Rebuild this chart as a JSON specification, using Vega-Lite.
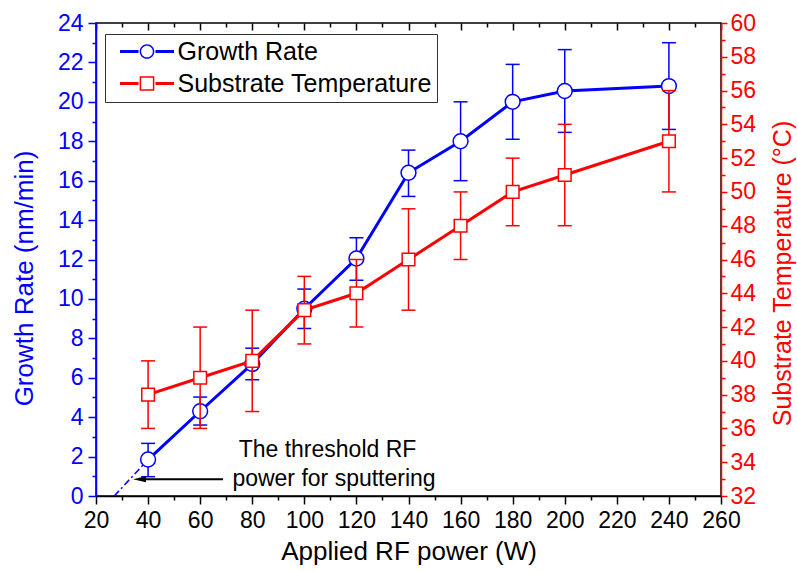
{
  "$schema": "https://vega.github.io/schema/vega-lite/v6.json",
  "width": 625,
  "height": 473,
  "autosize": {"type": "none"},
  "padding": {"left": 96, "top": 23, "right": 76, "bottom": 76},
  "background": "white",
  "config": {
    "font": "Liberation Sans",
    "view": {"stroke": "black", "strokeWidth": 1.5},
    "axis": {
      "grid": false,
      "labelFont": "Liberation Sans",
      "titleFont": "Liberation Sans",
      "titleFontWeight": "normal",
      "labelFontSize": 23,
      "titleFontSize": 26,
      "domainWidth": 1.5,
      "tickWidth": 1.5,
      "labelFlush": false,
      "labelOverlap": false
    },
    "legend": {
      "padding": 5,
      "strokeColor": "#333333",
      "strokeWidth": 1,
      "fillColor": "white",
      "labelFont": "Liberation Sans",
      "labelFontSize": 25,
      "labelColor": "black",
      "labelLimit": 500,
      "symbolSize": 225,
      "symbolOffset": 24.5,
      "labelOffset": 18,
      "rowPadding": 6,
      "symbolStrokeWidth": 0,
      "symbolOpacity": 1
    }
  },
  "datasets": {
    "growth": [
      {"power": 40, "rate": 1.85, "lo": 0.98, "hi": 2.67, "series": "Growth Rate"},
      {"power": 60, "rate": 4.3, "lo": 3.6, "hi": 5.02, "series": "Growth Rate"},
      {"power": 80, "rate": 6.7, "lo": 5.9, "hi": 7.5, "series": "Growth Rate"},
      {"power": 100, "rate": 9.5, "lo": 8.5, "hi": 10.5, "series": "Growth Rate"},
      {"power": 120, "rate": 12.05, "lo": 10.95, "hi": 13.1, "series": "Growth Rate"},
      {"power": 140, "rate": 16.4, "lo": 15.2, "hi": 17.55, "series": "Growth Rate"},
      {"power": 160, "rate": 18.0, "lo": 16.0, "hi": 20.0, "series": "Growth Rate"},
      {"power": 180, "rate": 20.0, "lo": 18.1, "hi": 21.9, "series": "Growth Rate"},
      {"power": 200, "rate": 20.55, "lo": 18.45, "hi": 22.65, "series": "Growth Rate"},
      {"power": 240, "rate": 20.8, "lo": 18.6, "hi": 23.0, "series": "Growth Rate"}
    ],
    "temp": [
      {"power": 40, "temp": 38, "lo": 36, "hi": 40, "series": "Substrate Temperature"},
      {"power": 60, "temp": 39, "lo": 36, "hi": 42, "series": "Substrate Temperature"},
      {"power": 80, "temp": 40, "lo": 37, "hi": 43, "series": "Substrate Temperature"},
      {"power": 100, "temp": 43, "lo": 41, "hi": 45, "series": "Substrate Temperature"},
      {"power": 120, "temp": 44, "lo": 42, "hi": 46, "series": "Substrate Temperature"},
      {"power": 140, "temp": 46, "lo": 43, "hi": 49, "series": "Substrate Temperature"},
      {"power": 160, "temp": 48, "lo": 46, "hi": 50, "series": "Substrate Temperature"},
      {"power": 180, "temp": 50, "lo": 48, "hi": 52, "series": "Substrate Temperature"},
      {"power": 200, "temp": 51, "lo": 48, "hi": 54, "series": "Substrate Temperature"},
      {"power": 240, "temp": 53, "lo": 50, "hi": 56, "series": "Substrate Temperature"}
    ],
    "extrap": [
      {"power": 27.0, "rate": 0.0},
      {"power": 40, "rate": 1.85}
    ],
    "arrow": [
      {"head": 36.7, "tail": 68.8, "level": 0.85}
    ],
    "note": [
      {"power": 108.9, "rate": 1.99, "label": "The threshold RF"},
      {"power": 111.4, "rate": 0.52, "label": "power for sputtering"}
    ]
  },
  "layer": [
    {
      "layer": [
        {
          "data": {"name": "growth"},
          "mark": {"type": "rule", "color": "#0000FF", "strokeWidth": 1.5},
          "encoding": {
            "x": {"field": "power", "type": "quantitative", "scale": {"domain": [20, 260], "nice": false, "zero": false},
              "axis": {"orient": "bottom", "values": [30, 50, 70, 90, 110, 130, 150, 170, 190, 210, 230, 250], "labels": false, "domain": false, "tickSize": 4, "tickColor": "black", "title": null}},
            "y": {"field": "lo", "type": "quantitative", "scale": {"domain": [0, 24], "nice": false, "zero": false},
              "axis": {"orient": "left", "values": [1, 3, 5, 7, 9, 11, 13, 15, 17, 19, 21, 23], "labels": false, "domain": false, "tickSize": 4, "tickColor": "#0000FF", "title": null}},
            "y2": {"field": "hi"}
          }
        },
        {
          "data": {"name": "growth"},
          "mark": {"type": "tick", "orient": "horizontal", "color": "#0000FF", "size": 14, "thickness": 1.5, "opacity": 1},
          "encoding": {
            "x": {"field": "power", "type": "quantitative", "scale": {"domain": [20, 260], "nice": false, "zero": false},
              "axis": {"orient": "top", "offset": -7, "values": [20, 40, 60, 80, 100, 120, 140, 160, 180, 200, 220, 240, 260], "labels": false, "domain": false, "tickSize": 7, "tickColor": "black", "title": null}},
            "y": {"field": "lo", "type": "quantitative", "scale": {"domain": [0, 24], "nice": false, "zero": false}, "axis": null}
          }
        },
        {
          "data": {"name": "growth"},
          "mark": {"type": "tick", "orient": "horizontal", "color": "#0000FF", "size": 14, "thickness": 1.5, "opacity": 1},
          "encoding": {
            "x": {"field": "power", "type": "quantitative", "scale": {"domain": [20, 260], "nice": false, "zero": false},
              "axis": {"orient": "top", "offset": -4, "values": [30, 50, 70, 90, 110, 130, 150, 170, 190, 210, 230, 250], "labels": false, "domain": false, "tickSize": 4, "tickColor": "black", "title": null}},
            "y": {"field": "hi", "type": "quantitative", "scale": {"domain": [0, 24], "nice": false, "zero": false}, "axis": null}
          }
        },
        {
          "data": {"name": "extrap"},
          "mark": {"type": "line", "color": "#0000FF", "strokeWidth": 1.5, "strokeDash": [7, 3, 2, 3]},
          "encoding": {
            "x": {"field": "power", "type": "quantitative", "scale": {"domain": [20, 260], "nice": false, "zero": false}, "axis": null},
            "y": {"field": "rate", "type": "quantitative", "scale": {"domain": [0, 24], "nice": false, "zero": false}, "axis": null}
          }
        },
        {
          "data": {"name": "growth"},
          "mark": {"type": "line", "color": "#0000FF", "strokeWidth": 3},
          "encoding": {
            "x": {"field": "power", "type": "quantitative", "scale": {"domain": [20, 260], "nice": false, "zero": false},
              "axis": {"orient": "bottom", "values": [20, 40, 60, 80, 100, 120, 140, 160, 180, 200, 220, 240, 260], "title": "Applied RF power (W)", "tickSize": 8, "tickColor": "black", "domainColor": "black", "labelColor": "black", "titleColor": "black", "labelPadding": 5, "titlePadding": 6}},
            "y": {"field": "rate", "type": "quantitative", "scale": {"domain": [0, 24], "nice": false, "zero": false},
              "axis": {"orient": "left", "values": [0, 2, 4, 6, 8, 10, 12, 14, 16, 18, 20, 22, 24], "title": "Growth Rate (nm/min)", "tickSize": 8, "tickColor": "#0000FF", "domainColor": "#0000FF", "labelColor": "#0000FF", "titleColor": "#0000FF", "labelPadding": 5, "titlePadding": 20, "titleY": 255}}
          }
        },
        {
          "data": {"name": "growth"},
          "mark": {"type": "point", "shape": "circle", "size": 220, "filled": false, "fill": "white", "stroke": "#0000FF", "strokeWidth": 1.5, "opacity": 1},
          "encoding": {
            "x": {"field": "power", "type": "quantitative", "scale": {"domain": [20, 260], "nice": false, "zero": false}, "axis": null},
            "y": {"field": "rate", "type": "quantitative", "scale": {"domain": [0, 24], "nice": false, "zero": false}, "axis": null}
          }
        },
        {
          "data": {"name": "arrow"},
          "mark": {"type": "rule", "color": "black", "strokeWidth": 2},
          "encoding": {
            "x": {"field": "head", "type": "quantitative", "scale": {"domain": [20, 260], "nice": false, "zero": false}, "axis": null},
            "x2": {"field": "tail"},
            "y": {"field": "level", "type": "quantitative", "scale": {"domain": [0, 24], "nice": false, "zero": false}, "axis": null}
          }
        },
        {
          "data": {"name": "arrow"},
          "mark": {"type": "point", "shape": "M-1,0L1,-0.45L1,0.45Z", "size": 169, "filled": true, "color": "black", "opacity": 1},
          "encoding": {
            "x": {"field": "head", "type": "quantitative", "scale": {"domain": [20, 260], "nice": false, "zero": false}, "axis": null},
            "y": {"field": "level", "type": "quantitative", "scale": {"domain": [0, 24], "nice": false, "zero": false}, "axis": null}
          }
        },
        {
          "data": {"name": "note"},
          "mark": {"type": "text", "font": "Liberation Sans", "fontSize": 23, "color": "black", "align": "center", "baseline": "alphabetic"},
          "encoding": {
            "x": {"field": "power", "type": "quantitative", "scale": {"domain": [20, 260], "nice": false, "zero": false}, "axis": null},
            "y": {"field": "rate", "type": "quantitative", "scale": {"domain": [0, 24], "nice": false, "zero": false}, "axis": null},
            "text": {"field": "label"}
          }
        },
        {
          "data": {"name": "growth"},
          "transform": [{"filter": "false"}],
          "mark": {"type": "point", "filled": true, "opacity": 1},
          "encoding": {
            "x": {"field": "power", "type": "quantitative", "scale": {"domain": [20, 260], "nice": false, "zero": false}, "axis": null},
            "y": {"field": "rate", "type": "quantitative", "scale": {"domain": [0, 24], "nice": false, "zero": false}, "axis": null},
            "color": {"field": "series", "type": "nominal",
              "scale": {"domain": ["Growth Rate", "Substrate Temperature"], "range": ["#0000FF", "#FF0000"]},
              "legend": {"title": null, "orient": "none", "legendX": 9, "legendY": 11}},
            "shape": {"field": "series", "type": "nominal",
              "scale": {"domain": ["Growth Rate", "Substrate Temperature"], "range": [
                "M-3.6,-0.2H-1.13V0.2H-3.6Z M1.13,-0.2H3.6V0.2H1.13Z M0.98,0A0.98,0.98 0 1,0 -0.98,0A0.98,0.98 0 1,0 0.98,0Z M0.78,0A0.78,0.78 0 1,1 -0.78,0A0.78,0.78 0 1,1 0.78,0Z",
                "M-3.6,-0.2H-1.13V0.2H-3.6Z M1.13,-0.2H3.6V0.2H1.13Z M-0.98,-0.98H0.98V0.98H-0.98Z M-0.78,-0.78V0.78H0.78V-0.78Z"
              ]},
              "legend": {"title": null, "orient": "none", "legendX": 9, "legendY": 11}}
          }
        }
      ],
      "resolve": {"axis": {"x": "independent", "y": "independent"}}
    },
    {
      "layer": [
        {
          "data": {"name": "temp"},
          "mark": {"type": "rule", "color": "#FF0000", "strokeWidth": 1.5},
          "encoding": {
            "x": {"field": "power", "type": "quantitative", "scale": {"domain": [20, 260], "nice": false, "zero": false}, "axis": null},
            "y": {"field": "lo", "type": "quantitative", "scale": {"domain": [32, 60], "nice": false, "zero": false},
              "axis": {"orient": "right", "values": [33, 35, 37, 39, 41, 43, 45, 47, 49, 51, 53, 55, 57, 59], "labels": false, "domain": false, "tickSize": 4, "tickColor": "#FF0000", "title": null}},
            "y2": {"field": "hi"}
          }
        },
        {
          "data": {"name": "temp"},
          "mark": {"type": "tick", "orient": "horizontal", "color": "#FF0000", "size": 14, "thickness": 1.5, "opacity": 1},
          "encoding": {
            "x": {"field": "power", "type": "quantitative", "scale": {"domain": [20, 260], "nice": false, "zero": false}, "axis": null},
            "y": {"field": "lo", "type": "quantitative", "scale": {"domain": [32, 60], "nice": false, "zero": false}, "axis": null}
          }
        },
        {
          "data": {"name": "temp"},
          "mark": {"type": "tick", "orient": "horizontal", "color": "#FF0000", "size": 14, "thickness": 1.5, "opacity": 1},
          "encoding": {
            "x": {"field": "power", "type": "quantitative", "scale": {"domain": [20, 260], "nice": false, "zero": false}, "axis": null},
            "y": {"field": "hi", "type": "quantitative", "scale": {"domain": [32, 60], "nice": false, "zero": false}, "axis": null}
          }
        },
        {
          "data": {"name": "temp"},
          "mark": {"type": "line", "color": "#FF0000", "strokeWidth": 3},
          "encoding": {
            "x": {"field": "power", "type": "quantitative", "scale": {"domain": [20, 260], "nice": false, "zero": false}, "axis": null},
            "y": {"field": "temp", "type": "quantitative", "scale": {"domain": [32, 60], "nice": false, "zero": false},
              "axis": {"orient": "right", "values": [32, 34, 36, 38, 40, 42, 44, 46, 48, 50, 52, 54, 56, 58, 60], "title": "Substrate Temperature (°C)", "titleAngle": 270, "titleBaseline": "middle", "titleAlign": "center", "titleFontSize": 25, "titleX": 61, "titleY": 250, "tickSize": 6, "tickColor": "#FF0000", "domainColor": "#FF0000", "labelColor": "#FF0000", "titleColor": "#FF0000", "labelPadding": 3}}
          }
        },
        {
          "data": {"name": "temp"},
          "mark": {"type": "point", "shape": "square", "size": 160, "filled": false, "fill": "white", "stroke": "#FF0000", "strokeWidth": 1.5, "opacity": 1},
          "encoding": {
            "x": {"field": "power", "type": "quantitative", "scale": {"domain": [20, 260], "nice": false, "zero": false}, "axis": null},
            "y": {"field": "temp", "type": "quantitative", "scale": {"domain": [32, 60], "nice": false, "zero": false}, "axis": null}
          }
        }
      ],
      "resolve": {"axis": {"x": "independent", "y": "independent"}}
    }
  ],
  "resolve": {"scale": {"y": "independent"}, "axis": {"x": "independent", "y": "independent"}}
}
